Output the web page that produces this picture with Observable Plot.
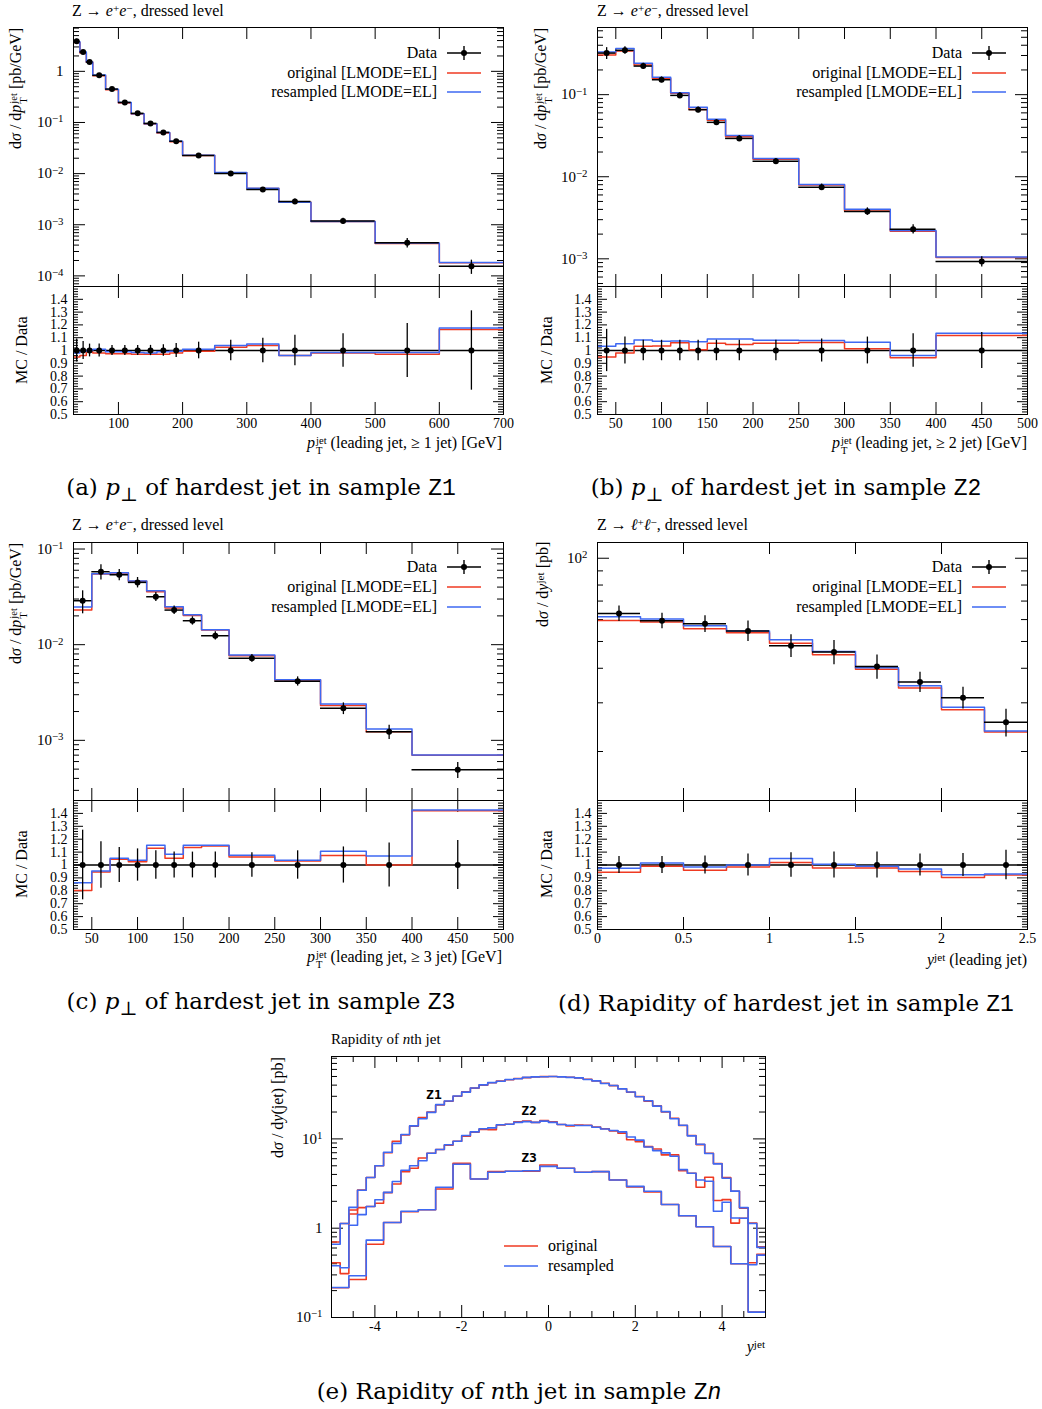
<!DOCTYPE html>
<html><head><meta charset="utf-8">
<script src="https://cdn.jsdelivr.net/npm/d3@7"></script>
<script src="https://cdn.jsdelivr.net/npm/@observablehq/plot@0.6"></script>
<style>
body{margin:0;background:#fff;}
#page{position:relative;width:1042px;height:1409px;overflow:hidden;font-family:"Liberation Serif",serif;color:#000;background:#fff;}
.abs{position:absolute;white-space:nowrap;}
.ss{display:inline-flex;flex-direction:column;font-size:0.66em;line-height:0.95;vertical-align:0.38em;margin-left:1px;}
.sp{font-size:0.7em;line-height:0;vertical-align:0.32em;}
.tt{font-family:"Liberation Mono",monospace;}
svg{overflow:visible;}
</style></head><body><div id="page"></div>
<script>
// ---------------- data ----------------
// (a) leading jet pT, >=1 jet
const aEdges = [30,40,50,60,80,100,120,140,160,180,200,250,300,350,400,500,600,700];
const aData = [3.87,2.39,1.52,0.835,0.45,0.247,0.151,0.096,0.064,0.043,0.0227,0.0101,0.0049,0.00286,0.00118,0.000445,0.000155];
const aErr = [0.09,0.07,0.05,0.05,0.04,0.04,0.04,0.04,0.045,0.055,0.065,0.08,0.095,0.12,0.13,0.21,0.31];
const aOrig = [0.95,0.96,0.99,0.98,0.975,0.975,0.97,0.97,0.97,0.98,0.995,1.025,1.04,0.96,0.98,0.97,1.165];
const aResamp = [0.98,0.995,1.0,1.01,0.99,0.99,0.985,0.98,0.99,0.995,1.01,1.04,1.05,0.96,0.985,0.985,1.175];
const aXTicks = [100,200,300,400,500,600,700];
const aXTickLabels = ["100","200","300","400","500","600","700"];
const aYTicks = [1e-4,1e-3,1e-2,1e-1,1];
const aYTickLabels = ["10⁻⁴","10⁻³","10⁻²","10⁻¹","1"];

// (b) leading jet pT, >=2 jet
const bEdges = [30,50,70,90,110,130,150,170,200,250,300,350,400,500];
const bData = [0.321,0.347,0.223,0.152,0.098,0.0656,0.046,0.0293,0.0154,0.00747,0.00378,0.0023,0.000927];
const bErr = [0.165,0.105,0.08,0.08,0.08,0.08,0.08,0.08,0.08,0.09,0.105,0.13,0.14];
const bOrig = [0.95,0.98,1.034,1.036,1.06,1.005,1.057,1.047,1.057,1.062,1.013,0.943,1.117];
const bResamp = [1.034,1.052,1.083,1.073,1.075,1.068,1.089,1.089,1.08,1.078,1.065,0.96,1.135];
const bXTicks = [50,100,150,200,250,300,350,400,450,500];
const bXTickLabels = ["50","100","150","200","250","300","350","400","450","500"];
const bYTicks = [1e-3,1e-2,1e-1];
const bYTickLabels = ["10⁻³","10⁻²","10⁻¹"];

// (c) leading jet pT, >=3 jet
const cEdges = [30,50,70,90,110,130,150,170,200,250,300,350,400,500];
const cData = [0.0288,0.0579,0.0538,0.0448,0.0317,0.023,0.0178,0.0124,0.00723,0.00415,0.00216,0.00123,0.000493];
const cErr = [0.27,0.18,0.135,0.125,0.11,0.1,0.1,0.1,0.095,0.11,0.14,0.17,0.19];
const cOrig = [0.802,0.945,1.044,1.026,1.13,1.052,1.135,1.148,1.0625,1.031,1.073,1.0,1.42];
const cResamp = [0.862,0.953,1.052,1.036,1.154,1.083,1.154,1.154,1.076,1.036,1.107,1.07,1.427];
const cXTicks = [50,100,150,200,250,300,350,400,450,500];
const cXTickLabels = ["50","100","150","200","250","300","350","400","450","500"];
const cYTicks = [1e-3,1e-2,1e-1];
const cYTickLabels = ["10⁻³","10⁻²","10⁻¹"];

// (d) leading jet rapidity
const dEdges = [0,0.25,0.5,0.75,1,1.25,1.5,1.75,2,2.25,2.5];
const dData = [63.1,59.4,57.9,54.6,48.3,45.8,40.6,35.7,31.3,25.5];
const dErr = [0.065,0.065,0.07,0.085,0.095,0.1,0.1,0.085,0.09,0.115];
const dOrig = [0.943,0.99,0.96,0.984,1.02,0.977,0.977,0.95,0.904,0.922];
const dResamp = [0.974,1.016,0.984,1.0,1.05,1.005,0.99,0.969,0.924,0.93];
const dXTicks = [0,0.5,1,1.5,2,2.5];
const dXTickLabels = ["0","0.5","1","1.5","2","2.5"];
const dYTicks = [100];
const dYTickLabels = ["10²"];

// ratio axis
const ratioTicks = [0.5,0.6,0.7,0.8,0.9,1,1.1,1.2,1.3,1.4];
const ratioTickLabels = ["0.5","0.6","0.7","0.8","0.9","1","1.1","1.2","1.3","1.4"];

// (e) rapidity of nth jet in sample Zn
const zEdgesFine = d3.range(51).map(i => +(-5 + i * 0.2).toFixed(1));
const zEdgesWide = d3.range(26).map(i => +(-5 + i * 0.4).toFixed(1));
const z1Orig = [0.70,1.13,1.60,2.68,3.69,5.0,7.0,9.4,11.1,13.9,17.3,20.0,24.0,26.4,30.0,33.6,37.0,40.0,42.5,44.5,46.0,47.4,48.6,49.4,49.8,
                49.9,49.6,49.0,48.0,46.5,44.5,42.0,39.5,36.5,33.3,29.8,26.5,23.5,20.0,17.0,14.1,10.9,8.63,6.9,5.3,3.7,2.59,1.68,1.14,0.62];
const z1Resamp = [0.66,1.13,1.71,2.66,3.70,5.0,7.1,8.9,11.2,14.0,16.8,19.8,24.2,26.6,30.2,33.4,37.2,40.3,42.7,44.3,46.2,47.2,48.8,49.5,49.7,
                  50.0,49.5,48.8,48.2,46.3,44.7,41.8,39.7,36.3,33.5,29.6,26.7,23.3,20.2,16.8,14.2,10.8,8.7,6.85,5.25,3.62,2.6,1.70,1.13,0.61];
const z2Orig = [0.41,0.31,1.44,1.70,1.75,1.90,2.50,3.13,4.30,4.70,6.10,6.90,7.60,8.50,9.40,10.7,11.9,12.8,12.7,14.3,14.6,15.5,15.8,15.3,16.1,
                15.5,14.5,14.0,14.3,14.2,13.6,13.0,12.3,11.6,9.8,9.3,8.2,7.7,6.62,6.62,4.41,4.12,2.87,3.72,2.04,2.09,1.14,1.29,0.41,0.51];
const z2Resamp = [0.38,0.36,1.08,1.42,1.75,2.08,2.52,3.33,4.45,5.00,5.70,6.90,7.60,8.60,9.40,10.9,12.0,13.0,13.3,14.4,14.6,15.3,15.6,15.3,15.8,
                  15.3,14.5,14.2,14.1,14.1,13.5,12.9,12.4,12.0,10.5,9.7,8.1,7.4,6.97,6.4,4.53,4.12,3.47,3.35,1.55,1.95,1.30,1.29,0.39,0.50];
const z3Orig = [0.215,0.266,0.66,1.16,1.53,1.61,2.75,5.33,3.55,4.3,4.34,4.35,5.1,4.69,4.23,4.3,3.47,2.9,2.55,1.84,1.38,1.04,0.625,0.40,0.115];
const z3Resamp = [0.217,0.293,0.736,1.16,1.55,1.61,2.87,5.2,3.55,4.23,4.34,4.4,4.93,4.69,4.23,4.3,3.47,2.94,2.59,1.84,1.38,1.04,0.625,0.40,0.115];
const zLabels = [{label:"Z1", x:-2.64, y:31.4},{label:"Z2", x:-0.45, y:20.7},{label:"Z3", x:-0.45, y:6.2}];
const eXTicks = [-4,-2,0,2,4];
const eXTickLabels = ["-4","-2","0","2","4"];
const eYTicks = [0.1,1,10];
const eYTickLabels = ["10⁻¹","1","10¹"];

// ---------------- helpers ----------------
const RED = "#ef3a22", BLUE = "#3e68f2";
const page = document.getElementById("page");
const TXT = {fontFamily: "'Liberation Serif', serif", fontSize: "14px", background: "transparent", overflow: "visible"};
const SUPMAP = {"⁻":"−","⁰":"0","¹":"1","²":"2","³":"3","⁴":"4","⁵":"5","⁶":"6","⁷":"7","⁸":"8","⁹":"9"};

function el(html, css) {
  const d = document.createElement("div");
  d.className = "abs";
  d.innerHTML = html;
  Object.assign(d.style, css);
  page.appendChild(d);
  return d;
}
function textAt(html, x, y, anchor, extra) {
  const css = Object.assign({top: y + "px", lineHeight: "1"}, extra || {});
  if (anchor === "end") { css.right = (1042 - x) + "px"; css.transform = "translateY(-50%)"; }
  else if (anchor === "middle") { css.left = x + "px"; css.transform = "translate(-50%,-50%)"; }
  else { css.left = x + "px"; css.transform = "translateY(-50%)"; }
  return el(html, css);
}
function yLabel(html, cx, y, mode) {
  const d = el(html, {left: "0px", top: "0px", lineHeight: "1", fontSize: "16px", transformOrigin: "0 0"});
  const w = d.offsetWidth, h = d.offsetHeight;
  const bottom = mode === "top" ? y + w : y + w / 2;
  d.style.left = (cx - h / 2) + "px";
  d.style.top = bottom + "px";
  d.style.transform = "rotate(-90deg)";
}
// turn "10⁻¹" tick labels into 10 + raised exponent tspan
function fixExponents(svg) {
  svg.querySelectorAll("text").forEach(t => {
    const s = t.textContent;
    const m = /^10([⁻⁰¹²³⁴⁵⁶⁷⁸⁹]+)$/.exec(s);
    if (!m) return;
    const exp = [...m[1]].map(c => SUPMAP[c]).join("");
    const tspans = t.querySelectorAll("tspan");
    const target = tspans.length ? tspans[0] : t;
    target.textContent = "10";
    const sup = document.createElementNS("http://www.w3.org/2000/svg", "tspan");
    sup.setAttribute("dy", "-0.45em");
    sup.setAttribute("font-size", "0.72em");
    sup.textContent = exp;
    target.appendChild(sup);
  });
}
function put(svg, left, top) {
  fixExponents(svg);
  svg.style.position = "absolute";
  svg.style.left = left + "px";
  svg.style.top = top + "px";
  page.appendChild(svg);
}
function logTicks(lo, hi) {
  const major = [], minor = [];
  for (let p = Math.floor(Math.log10(lo)); p <= Math.ceil(Math.log10(hi)); p++) {
    const d = Math.pow(10, p);
    if (d >= lo && d <= hi) major.push(d);
    for (let k = 2; k <= 9; k++) { const v = k * d; if (v >= lo && v <= hi) minor.push(v); }
  }
  return {major, minor};
}
const rMajor = d3.range(1, 10).map(i => 0.5 + i * 0.1);
const rMinor = d3.range(1, 50).filter(i => i % 5 !== 0).map(i => 0.5 + i * 0.02);

function stepPts(edges, vals) {
  const n = vals.length;
  return edges.map((x, i) => ({x, y: i < n ? vals[i] : vals[n - 1]}));
}

function histPanel(p) {
  const fw = p.R - p.L, fh = p.M - p.T, rh = p.B - p.M;
  const ML = 72, MR = 20, MT = 14, MB = 40;
  const n = p.data.length;
  const pts = p.data.map((v, i) => ({c: (p.edges[i] + p.edges[i + 1]) / 2, lo: p.edges[i], hi: p.edges[i + 1], v, e: p.err[i]}));
  const xDom = [p.edges[0], p.edges[n]];
  const lt = logTicks(p.yDomain[0], p.yDomain[1]);
  const yLab = new Map(p.yTicks.map((t, i) => [t, p.yTickLabels[i]]));
  const xLab = new Map(p.xTicks.map((t, i) => [t, p.xTickLabels[i]]));
  const rLab = new Map(ratioTicks.map((t, i) => [t, ratioTickLabels[i]]));
  const main = Plot.plot({
    width: fw + ML + MR, height: fh + MT + 2, marginLeft: ML, marginRight: MR, marginTop: MT, marginBottom: 2,
    style: TXT,
    x: {domain: xDom, axis: null},
    y: {type: "log", domain: p.yDomain},
    marks: [
      Plot.ruleY(lt.minor, {insetRight: fw - 6, stroke: "#000"}),
      Plot.ruleY(lt.minor, {insetLeft: fw - 6, stroke: "#000"}),
      Plot.ruleY(lt.major, {insetRight: fw - 12, stroke: "#000"}),
      Plot.ruleY(lt.major, {insetLeft: fw - 12, stroke: "#000"}),
      Plot.ruleX(p.xTicks, {insetTop: fh - 12, stroke: "#000"}),
      Plot.ruleX(p.xTicks, {insetBottom: fh - 12, stroke: "#000"}),
      Plot.axisY({ticks: p.yTicks, tickFormat: d => yLab.get(d), tickSize: 0, tickPadding: 10, label: null, fontSize: 15}),
      Plot.line(stepPts(p.edges, p.data.map((v, i) => v * p.orig[i])), {x: "x", y: "y", curve: "step-after", stroke: RED, strokeWidth: 1.5, clip: true}),
      Plot.line(stepPts(p.edges, p.data.map((v, i) => v * p.resamp[i])), {x: "x", y: "y", curve: "step-after", stroke: BLUE, strokeWidth: 1.5, clip: true}),
      Plot.ruleY(pts, {y: "v", x1: "lo", x2: "hi", stroke: "#000", strokeWidth: 1.5, clip: true}),
      Plot.ruleX(pts, {x: "c", y1: d => d.v * (1 - d.e), y2: d => d.v * (1 + d.e), stroke: "#000", strokeWidth: 1.3, clip: true}),
      Plot.dot(pts, {x: "c", y: "v", r: 3, fill: "#000", stroke: "none"}),
      Plot.frame({stroke: "#000"})
    ]
  });
  put(main, p.L - ML, p.T - MT);
  const ratio = Plot.plot({
    width: fw + ML + MR, height: rh + MB + 2, marginLeft: ML, marginRight: MR, marginTop: 2, marginBottom: MB,
    style: TXT,
    x: {domain: xDom},
    y: {domain: [0.5, 1.5]},
    marks: [
      Plot.ruleY(rMinor, {insetRight: fw - 5, stroke: "#000"}),
      Plot.ruleY(rMinor, {insetLeft: fw - 5, stroke: "#000"}),
      Plot.ruleY(rMajor, {insetRight: fw - 10, stroke: "#000"}),
      Plot.ruleY(rMajor, {insetLeft: fw - 10, stroke: "#000"}),
      Plot.ruleX(p.xTicks, {insetTop: rh - 12, stroke: "#000"}),
      Plot.ruleX(p.xTicks, {insetBottom: rh - 12, stroke: "#000"}),
      Plot.axisY({ticks: ratioTicks, tickFormat: d => rLab.get(d), tickSize: 0, tickPadding: 6, label: null, fontSize: 14}),
      Plot.axisX({ticks: p.xTicks, tickFormat: d => xLab.get(d), tickSize: 0, tickPadding: 4, label: null, fontSize: 14}),
      Plot.ruleY([1], {stroke: "#000", strokeWidth: 1.7}),
      Plot.line(stepPts(p.edges, p.orig), {x: "x", y: "y", curve: "step-after", stroke: RED, strokeWidth: 1.5, clip: true}),
      Plot.line(stepPts(p.edges, p.resamp), {x: "x", y: "y", curve: "step-after", stroke: BLUE, strokeWidth: 1.5, clip: true}),
      Plot.ruleX(pts, {x: "c", y1: d => 1 - d.e, y2: d => 1 + d.e, stroke: "#000", strokeWidth: 1.3, clip: true}),
      Plot.dot(pts, {x: "c", y: d => 1, r: 3, fill: "#000", stroke: "none"}),
      Plot.frame({stroke: "#000"})
    ]
  });
  put(ratio, p.L - ML, p.M - 2);
}

function legend(xr, ys) {
  const items = [["Data", "data"], ["original [LMODE=EL]", RED], ["resampled [LMODE=EL]", BLUE]];
  items.forEach(([t, c], i) => {
    textAt(t, xr, ys[i], "end", {fontSize: "16px"});
    const sw = c === "data"
      ? '<svg width="36" height="16"><line x1="1" y1="8" x2="35" y2="8" stroke="#000" stroke-width="1.4"/><line x1="18" y1="1" x2="18" y2="15" stroke="#000" stroke-width="1.4"/><circle cx="18" cy="8" r="3" fill="#000"/></svg>'
      : '<svg width="36" height="16"><line x1="1" y1="8" x2="35" y2="8" stroke="' + c + '" stroke-width="1.6"/></svg>';
    el(sw, {left: (xr + 9) + "px", top: (ys[i] - 8) + "px", lineHeight: "0"});
  });
}
function caption(html, cx, cy) {
  textAt(html, cx, cy, "middle", {fontFamily: "'DejaVu Serif', serif", fontSize: "23px"});
}

const PT = '<i>p</i><span class="ss"><span>jet</span><span>T</span></span>';
const SIG = 'd<i>σ</i>';
const SUP = s => '<span class="sp">' + s + '</span>';

// ---------------- panels ----------------
const L1 = 73, R1 = 503, L2 = 597, R2 = 1027;
const T1 = 27, M1 = 286, B1 = 414;
const T2 = 542, M2 = 800, B2 = 929;

histPanel({L: L1, R: R1, T: T1, M: M1, B: B1, edges: aEdges, data: aData, err: aErr, orig: aOrig, resamp: aResamp,
  yDomain: [6.2e-5, 7.2], yTicks: aYTicks, yTickLabels: aYTickLabels, xTicks: aXTicks, xTickLabels: aXTickLabels});
histPanel({L: L2, R: R2, T: T1, M: M1, B: B1, edges: bEdges, data: bData, err: bErr, orig: bOrig, resamp: bResamp,
  yDomain: [4.6e-4, 0.658], yTicks: bYTicks, yTickLabels: bYTickLabels, xTicks: bXTicks, xTickLabels: bXTickLabels});
histPanel({L: L1, R: R1, T: T2, M: M2, B: B2, edges: cEdges, data: cData, err: cErr, orig: cOrig, resamp: cResamp,
  yDomain: [2.35e-4, 0.117], yTicks: cYTicks, yTickLabels: cYTickLabels, xTicks: cXTicks, xTickLabels: cXTickLabels});
histPanel({L: L2, R: R2, T: T2, M: M2, B: B2, edges: dEdges, data: dData, err: dErr, orig: dOrig, resamp: dResamp,
  yDomain: [13.3, 114], yTicks: dYTicks, yTickLabels: dYTickLabels, xTicks: dXTicks, xTickLabels: dXTickLabels});

// (e)
(function () {
  const L = 331, R = 765, T = 1056, B = 1317;
  const fw = R - L, fh = B - T, ML = 72, MR = 20, MT = 14, MB = 40;
  const lt = logTicks(0.1, 83.7);
  const xMinor = d3.range(-9, 10).map(i => i / 2).filter(v => v % 2 !== 0);
  const yLab = new Map(eYTicks.map((t, i) => [t, eYTickLabels[i]]));
  const xLab = new Map(eXTicks.map((t, i) => [t, eXTickLabels[i]]));
  const ln = (edges, vals, color) => Plot.line(stepPts(edges, vals), {x: "x", y: "y", curve: "step-after", stroke: color, strokeWidth: 1.6, clip: true});
  const svg = Plot.plot({
    width: fw + ML + MR, height: fh + MT + MB, marginLeft: ML, marginRight: MR, marginTop: MT, marginBottom: MB,
    style: TXT,
    x: {domain: [-5, 5]},
    y: {type: "log", domain: [0.1, 83.7]},
    marks: [
      Plot.ruleY(lt.minor, {insetRight: fw - 6, stroke: "#000"}),
      Plot.ruleY(lt.minor, {insetLeft: fw - 6, stroke: "#000"}),
      Plot.ruleY(lt.major, {insetRight: fw - 12, stroke: "#000"}),
      Plot.ruleY(lt.major, {insetLeft: fw - 12, stroke: "#000"}),
      Plot.ruleX(xMinor, {insetTop: fh - 6, stroke: "#000"}),
      Plot.ruleX(xMinor, {insetBottom: fh - 6, stroke: "#000"}),
      Plot.ruleX(eXTicks, {insetTop: fh - 12, stroke: "#000"}),
      Plot.ruleX(eXTicks, {insetBottom: fh - 12, stroke: "#000"}),
      Plot.axisY({ticks: eYTicks, tickFormat: d => yLab.get(d), tickSize: 0, tickPadding: 9, label: null, fontSize: 15}),
      Plot.axisX({ticks: eXTicks, tickFormat: d => xLab.get(d), tickSize: 0, tickPadding: 4, label: null, fontSize: 14}),
      ln(zEdgesFine, z1Orig, RED), ln(zEdgesFine, z2Orig, RED), ln(zEdgesWide, z3Orig, RED),
      ln(zEdgesFine, z1Resamp, BLUE), ln(zEdgesFine, z2Resamp, BLUE), ln(zEdgesWide, z3Resamp, BLUE),
      Plot.text(zLabels, {x: "x", y: "y", text: "label", fontFamily: "'DejaVu Sans Mono', monospace", fontSize: 13, fontWeight: "bold"}),
      Plot.frame({stroke: "#000"})
    ]
  });
  put(svg, L - ML, T - MT);
  // legend
  el('<svg width="36" height="6"><line x1="0" y1="3" x2="34" y2="3" stroke="' + RED + '" stroke-width="1.6"/></svg>', {left: "504px", top: "1243px", lineHeight: "0"});
  el('<svg width="36" height="6"><line x1="0" y1="3" x2="34" y2="3" stroke="' + BLUE + '" stroke-width="1.6"/></svg>', {left: "504px", top: "1263px", lineHeight: "0"});
  textAt("original", 548, 1246, "start", {fontSize: "16px"});
  textAt("resampled", 548, 1266, "start", {fontSize: "16px"});
  textAt("Rapidity of <i>n</i>th jet", 331, 1039, "start", {fontSize: "15px"});
  yLabel(SIG + ' / d<i>y</i>(jet) [pb]', 278, 1057, "top");
  textAt('<i>y</i>' + SUP('jet'), 765, 1347, "end", {fontSize: "16px"});
})();

// titles
const EE = 'Z → <i>e</i>' + SUP('+') + '<i>e</i>' + SUP('−') + ', dressed level';
const LL = 'Z → <i>ℓ</i>' + SUP('+') + '<i>ℓ</i>' + SUP('−') + ', dressed level';
textAt(EE, 72, 11, "start", {fontSize: "16px"});
textAt(EE, 597, 11, "start", {fontSize: "16px"});
textAt(EE, 72, 525, "start", {fontSize: "16px"});
textAt(LL, 597, 525, "start", {fontSize: "16px"});

// legends
legend(437, [52.7, 72.7, 91.7]);
legend(962, [52.7, 72.7, 91.7]);
legend(437, [567.3, 587.3, 606.7]);
legend(962, [567.3, 587.3, 606.7]);

// axis labels
const YP = SIG + ' / d' + PT + ' [pb/GeV]';
yLabel(YP, 18, 28, "top");
yLabel(YP, 543, 28, "top");
yLabel(YP, 18, 543, "top");
yLabel(SIG + ' / d<i>y</i>' + SUP('jet') + ' [pb]', 543, 542, "top");
yLabel('MC / Data', 22, 350, "center");
yLabel('MC / Data', 547, 350, "center");
yLabel('MC / Data', 22, 864, "center");
yLabel('MC / Data', 547, 864, "center");
textAt(PT + ' (leading jet, ≥ 1 jet) [GeV]', 502, 446, "end", {fontSize: "16px"});
textAt(PT + ' (leading jet, ≥ 2 jet) [GeV]', 1027, 446, "end", {fontSize: "16px"});
textAt(PT + ' (leading jet, ≥ 3 jet) [GeV]', 502, 960, "end", {fontSize: "16px"});
textAt('<i>y</i>' + SUP('jet') + ' (leading jet)', 1027, 960, "end", {fontSize: "16px"});

// captions
caption('(a) <i>p</i><sub>⊥</sub> of hardest jet in sample <span class="tt">Z1</span>', 261, 490);
caption('(b) <i>p</i><sub>⊥</sub> of hardest jet in sample <span class="tt">Z2</span>', 786, 490);
caption('(c) <i>p</i><sub>⊥</sub> of hardest jet in sample <span class="tt">Z3</span>', 261, 1004);
caption('(d) Rapidity of hardest jet in sample <span class="tt">Z1</span>', 786, 1004);
caption('(e) Rapidity of <i>n</i>th jet in sample <span class="tt">Z<i>n</i></span>', 519, 1392);
</script></body></html>
